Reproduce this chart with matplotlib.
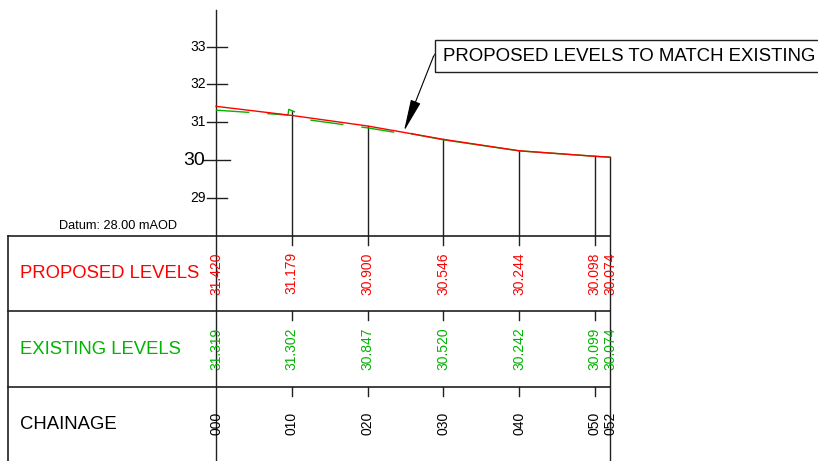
import matplotlib
matplotlib.use("Agg")
import matplotlib.pyplot as plt
from matplotlib.patches import Rectangle

plt.rcParams['font.family'] = ['Liberation Sans', 'DejaVu Sans']

# chainage stations and levels
chainage = [0, 10, 20, 30, 40, 50, 52]
chainage_labels = ['000', '010', '020', '030', '040', '050', '052']
proposed = [31.420, 31.179, 30.900, 30.546, 30.244, 30.098, 30.074]
existing = [31.319, 31.302, 30.847, 30.520, 30.242, 30.099, 30.074]
proposed_labels = ['31.420', '31.179', '30.900', '30.546', '30.244', '30.098', '30.074']
existing_labels = ['31.319', '31.302', '30.847', '30.520', '30.242', '30.099', '30.074']

# existing ground profile as traced (dashed part with kerb marks)
ex_dash_ch = [0, 9.5, 9.6, 12.2, 12.3, 20, 25.8, 25.9]
ex_dash_lv = [31.319, 31.19, 31.34, 31.12, 31.06, 30.85, 30.66, 30.72]
ex_solid_ch = [25.9, 30, 40, 50, 52]
ex_solid_lv = [30.69, 30.535, 30.242, 30.099, 30.074]

y_ticks = [29, 30, 31, 32, 33]
datum = 28.0
row_names = ['PROPOSED LEVELS', 'EXISTING LEVELS', 'CHAINAGE']

RED = '#ff0000'
GREEN = '#00b400'
INK = '#202020'

fig = plt.figure(figsize=(8.18, 4.61), dpi=100)
ax = fig.add_axes([0, 0, 1, 1])
ax.set_xlim(-28.51, 79.45)
ax.set_ylim(22.037, 34.233)
ax.axis('off')

# vertical datum axis
ax.plot([0, 0], [33.98, 22.0], color=INK, lw=1.0)
for t in y_ticks:
    if t == 30:
        ax.plot([-1.7, 1.85], [t, t], color=INK, lw=1.0)
        ax.text(-1.5, t, str(t), ha='right', va='center', fontsize=14)
    else:
        ax.plot([-1.2, 1.45], [t, t], color=INK, lw=1.0)
        ax.text(-1.3, t, str(t), ha='right', va='center', fontsize=10)

ax.text(-12.9, datum + 0.26, 'Datum: 28.00 mAOD', ha='center', va='center', fontsize=9.2)

# table
row_h = 2.0
left = -27.45
right = chainage[-1]
for k in range(3):
    ax.plot([left, right], [datum - k * row_h, datum - k * row_h], color=INK, lw=1.2)
ax.plot([left, left], [datum, 22.0], color=INK, lw=1.2)
ax.plot([right, right], [max(proposed[-1], existing[-1]), 22.0], color=INK, lw=1.0)

for k, name in enumerate(row_names):
    col = [RED, GREEN, 'black'][k]
    ax.text(-25.87, datum - (k + 0.5) * row_h, name, ha='left', va='center',
            fontsize=13.3, color=col)

# station lines and row ticks
for ch, p, e in zip(chainage, proposed, existing):
    if 0 < ch < right:
        ax.plot([ch, ch], [max(p, e), datum - 0.24], color=INK, lw=1.0)
        for k in (1, 2):
            ax.plot([ch, ch], [datum - k * row_h, datum - k * row_h - 0.24], color=INK, lw=1.0)

# row values
for ch, pl, el, cl in zip(chainage, proposed_labels, existing_labels, chainage_labels):
    ax.text(ch, datum - 0.5 * row_h, pl, rotation=90, ha='center', va='center',
            fontsize=10, color=RED)
    ax.text(ch, datum - 1.5 * row_h, el, rotation=90, ha='center', va='center',
            fontsize=10, color=GREEN)
    ax.text(ch, datum - 2.5 * row_h + 0.03, cl, rotation=90, ha='center', va='center',
            fontsize=10, color='black')

# profiles
l, = ax.plot(ex_dash_ch, ex_dash_lv, color=GREEN, lw=1.0)
l.set_dashes((24, 13))
ax.plot(ex_solid_ch, ex_solid_lv, color=GREEN, lw=1.0)
ax.plot(chainage, proposed, color=RED, lw=1.0)

# annotation
ax.add_patch(Rectangle((28.9, 32.33), 60, 0.85, fill=False, edgecolor=INK, lw=1.0))
ax.text(29.95, 32.75, 'PROPOSED LEVELS TO MATCH EXISTING', ha='left', va='center', fontsize=13.4)
ax.plot([28.9, 28.7], [32.80, 32.74], color=INK, lw=0.8)
ax.annotate('', xy=(24.8, 30.76), xytext=(28.7, 32.74),
            arrowprops=dict(arrowstyle='-|>,head_length=2.0,head_width=0.32',
                            color='black', lw=0.8, shrinkA=0, shrinkB=0))

fig.savefig('out.png', dpi=100)
